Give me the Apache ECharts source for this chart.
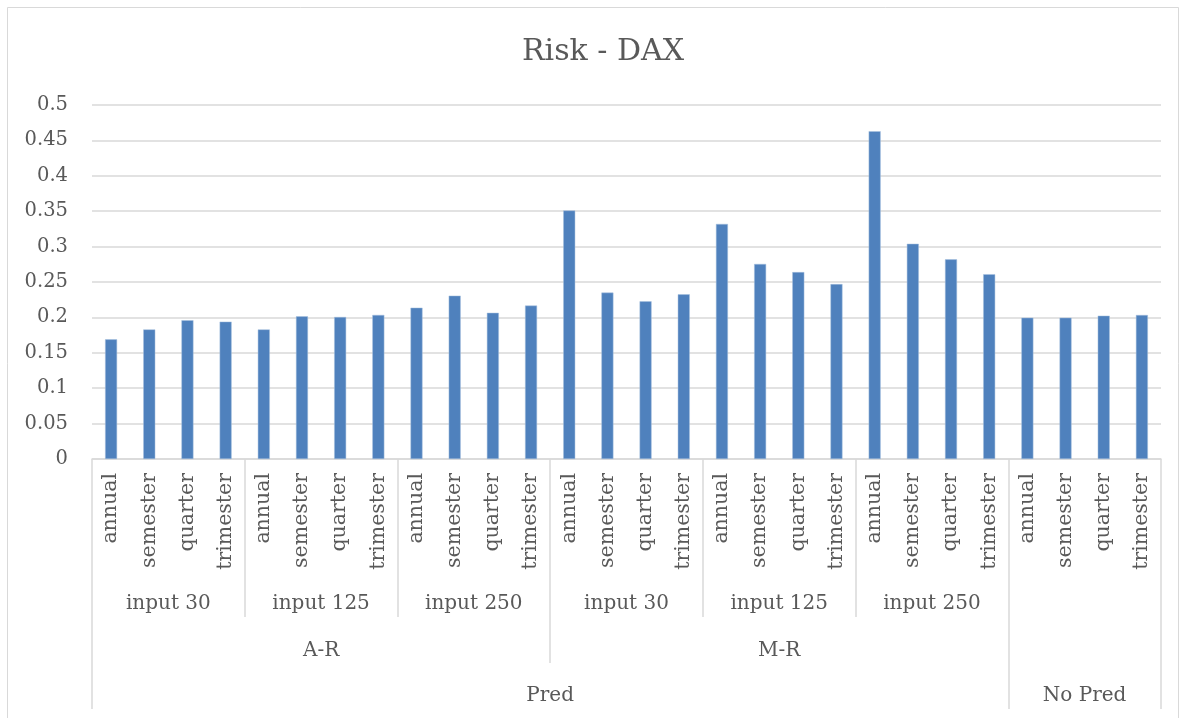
<!DOCTYPE html>
<html>
<head>
<meta charset="utf-8">
<script src="https://cdn.jsdelivr.net/npm/echarts@6/dist/echarts.min.js"></script>
<style>
html,body{margin:0;padding:0;background:#fff;}
#c{width:1186px;height:718px;}
</style>
</head>
<body>
<div id="c"></div>
<script>
// ---- data ----
const periods = ["annual","semester","quarter","trimester"];
const level2Labels = ["input 30","input 125","input 250","input 30","input 125","input 250",""];
const level3Labels = ["A-R","M-R",""];
const level3Sizes = [3,3,1];          // number of level-2 groups in each level-3 group
const level4Labels = ["Pred","No Pred"];
const level4Sizes = [2,1];            // number of level-3 groups in each level-4 group
const values = [
  0.169,0.183,0.196,0.194,
  0.183,0.2015,0.2006,0.2035,
  0.2137,0.2307,0.2065,0.2167,
  0.351,0.235,0.2227,0.2326,
  0.332,0.2755,0.264,0.247,
  0.463,0.304,0.282,0.261,
  0.1996,0.1996,0.2024,0.2034
];
const yTicks = {min:0, max:0.5, step:0.05};

// ---- build categories ----
const categories = [];
level2Labels.forEach(() => periods.forEach(p => categories.push(p)));
const N = categories.length;
const per = periods.length;

const l2Centers = level2Labels.map((_, i) => i * per + per / 2);
const l2Bounds = [];
for (let i = 1; i < level2Labels.length; i++) l2Bounds.push(i * per);

const l3Centers = [], l3Bounds = [0];
let acc = 0;
level3Sizes.forEach(s => { l3Centers.push((acc + s / 2) * per); acc += s; l3Bounds.push(acc * per); });

const l4Centers = [], l4Bounds = [0];
let acc4 = 0;
level4Sizes.forEach(s => {
  let units = 0;
  for (let k = 0; k < s; k++) units += level3Sizes[acc4 + k];
  const start = l4Bounds[l4Bounds.length - 1];
  l4Centers.push(start + units * per / 2);
  l4Bounds.push(start + units * per);
  acc4 += s;
});

const gray = '#d9d9d9';
const txt = '#595959';
const font = 'DejaVu Serif';

function levelAxis(tickVals, tickLen, labelVals, labelTexts, margin) {
  return {
    type: 'value', min: 0, max: N, position: 'bottom', offset: 0,
    axisLine: {show: false},
    splitLine: {show: false},
    axisTick: {show: true, customValues: tickVals, length: tickLen, lineStyle: {color: gray, width: 1.5}},
    axisLabel: {
      show: true, customValues: labelVals, margin: margin,
      color: txt, fontFamily: font, fontSize: 20,
      formatter: function (v) {
        const idx = labelVals.findIndex(x => Math.abs(x - v) < 1e-6);
        return idx >= 0 ? labelTexts[idx] : '';
      }
    }
  };
}

const innerL2 = l2Bounds.filter(b => l3Bounds.indexOf(b) < 0);
const innerL3 = l3Bounds.filter(b => l4Bounds.indexOf(b) < 0);

const chart = echarts.init(document.getElementById('c'), null, {renderer: 'canvas'});
chart.setOption({
  backgroundColor: '#fff',
  animation: false,
  title: {
    text: 'Risk - DAX', left: 598, top: 32, textAlign: 'center',
    textStyle: {color: txt, fontFamily: font, fontSize: 30, fontWeight: 'normal'}
  },
  graphic: [{
    type: 'rect', shape: {x: 7.5, y: 7.5, width: 1171, height: 730},
    style: {fill: 'none', stroke: gray, lineWidth: 1}, silent: true
  }],
  grid: {left: 92, right: 25, top: 105, bottom: 259, containLabel: false},
  xAxis: [
    {
      type: 'category', data: categories, position: 'bottom',
      axisLine: {show: true, lineStyle: {color: gray, width: 1.5}},
      axisTick: {show: false},
      axisLabel: {rotate: 90, interval: 0, margin: 14, color: txt, fontFamily: font, fontSize: 20.5}
    },
    levelAxis(innerL2, 158, l2Centers, level2Labels, 135),
    levelAxis(innerL3, 204, l3Centers, level3Labels, 182),
    levelAxis(l4Bounds, 250, l4Centers, level4Labels, 227)
  ],
  yAxis: {
    type: 'value', min: yTicks.min, max: yTicks.max, interval: yTicks.step,
    axisLine: {show: false}, axisTick: {show: false},
    splitLine: {lineStyle: {color: gray, width: 1.5}},
    axisLabel: {margin: 24, color: txt, fontFamily: font, fontSize: 19.5,
      formatter: v => String(+v.toFixed(2))}
  },
  series: [{
    type: 'bar', data: values, xAxisIndex: 0, barWidth: 12,
    itemStyle: {color: '#4f81bd', borderColor: '#a7c0de', borderWidth: 0.5}
  }]
});
</script>
</body>
</html>
